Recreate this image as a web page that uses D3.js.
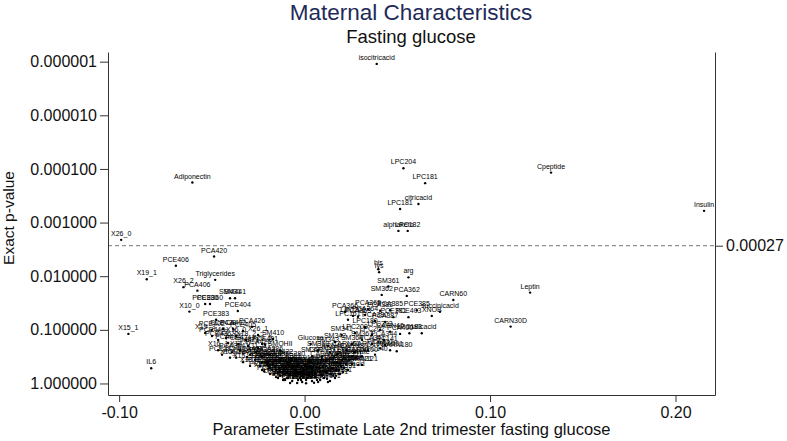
<!DOCTYPE html>
<html>
<head>
<meta charset="utf-8">
<script src="https://d3js.org/d3.v7.min.js"></script>
<style>
  body { margin: 0; background: #fff; }
  text { font-family: "Liberation Sans", Arial, sans-serif; }
</style>
</head>
<body>
<div id="chart"></div>
<script>
// labels
var chartTitle = "Maternal Characteristics";
var chartSubtitle = "Fasting glucose";
var xTitle = "Parameter Estimate Late 2nd trimester fasting glucose";
var yTitle = "Exact p-value";

// axis ticks
var xTicks = [-0.10, 0.00, 0.10, 0.20];
var yTicks = [0.000001, 0.00001, 0.0001, 0.001, 0.01, 0.1, 1];
var cutoffValue = 0.0027;
var cutoffLabel = "0.00027";

// metabolites that stand out of the cloud
var outlierNames = ["isocitricacid","LPC204","LPC181","citricacid","LPC181","alphaketo","LPC182",
  "Cpeptide","Insulin","Adiponectin","X26_0","PCA420","PCE406","X19_1","Triglycerides","X26_2",
  "PCA406","SM431","SM441","PCE380","PCE360","PCE404","X10_0","PCE383","X15_1","IL6","Leptin",
  "CARN30D","his","lys","arg","SM361","SM362","PCA362","CARN60","Glucose"];
var outlierEst = [0.0389,0.0533,0.0650,0.0614,0.0515,0.0506,0.0556,
  0.1329,0.2154,-0.0605,-0.0989,-0.0488,-0.0694,-0.0851,-0.0482,-0.0653,
  -0.0578,-0.0402,-0.0375,-0.0536,-0.0510,-0.0360,-0.0621,-0.0477,-0.0950,-0.0827,0.1216,
  0.1111,0.0398,0.0402,0.0560,0.0452,0.0416,0.0551,0.0802,0.0033];
var outlierP = [1.1e-6,9.7e-5,1.84e-4,4.5e-4,5.6e-4,1.43e-3,1.43e-3,
  1.17e-4,6.05e-4,1.79e-4,2.1e-3,4.3e-3,6.4e-3,0.0114,0.0117,0.016,
  0.0186,0.0257,0.0257,0.033,0.033,0.0444,0.0457,0.065,0.119,0.52,0.0202,
  0.087,0.0074,0.0084,0.0105,0.0156,0.0223,0.0233,0.0277,0.183];

// the V shaped cloud near zero
var cloudNames = ["PCE402","PCE428","PCA402","PCE405","PCA426","X19_3","X26_1","SM410","X16_1","PCA404",
  "PCE424","SM421","PCA425","PCE401","SMOHII","X15_3","PCE382","PCA384","PCE384","PCA403",
  "PCE364","PCA383","PCE362","PCA386","PCE386","SM422","CARN20","PCE341","PCA361","PCE363",
  "LPC160","SM400","CARN30","PCA342","PCE340","LPC170","PCA360","PCE361","SM380","CARN50",
  "PCA381","SM390","PCE342","PCA343","X10_1","CARN140","SM330","PCE320","X12_0","PCA322",
  "PCE344","gln","ala","gly","val","leu","ile","pro","thr","ser",
  "asn","asp","glu","orn","cit","met","phe","tyr","trp","lactate",
  "pyruvate","CARN21","CARN31","CARN42","CARN41","CARN51","CARN80","CARN100","CARN121","butyricacid",
  "CARN160","CARN180","PCA301","PCA321","PCA341","PCA344","SM341","SM342","SM343","SM360",
  "SM320","LPC180","LPC200","LPC202","LPC203","CARN40","PCA400","LPC183","malicacid","PCA363",
  "PCA364","LPC201","PCA365","PCA382","PCA385","PCE381","PCE403","PCE385","XNOB","succinicacid",
  "PCA366","LPC161","PCA380","PCA387","SM363","SM364","LPC140","LPC141","PCE300","PCA300",
  "SM300","CARN61","CARN70","CARN90","CARN120","CARN141","CARN161","CARN181","CARN182","CARN5OH",
  "PCE322","PCA324","PCE324","PCA340","SM302","SM304","SM365","LPC150","LPC171","LPC190",
  "LPC191","PCE280","PCA280","PCA302","X11_0","X14_0","X17_0","X18_1","X20_4","X22_6",
  "X16_0","X18_2","X20_5","PCE426","PCE440",
  "CARN2","CARN3","CARN4","CARN5","CARN6","CARN8","CARN10","CARN12","CARN14","CARN16",
  "CARN18","CARN5DC","CARN3OH","CARN4OH","SM240","SM241","SM242","SM160","SM161","SM180",
  "SM181","PCA320","PCA330","PCA331","PCA332","PCA350","PCA351","PCE301","PCE321","PCE323",
  "PCE330","PCE331","PCE350","PCE351","LPC141a","LPC162","LPC172","LPC184","LPC205","LPC206"];
var cloudEst = [-0.0500,-0.0439,-0.0385,-0.0332,-0.0283,-0.0536,-0.0251,-0.0170,-0.0466,-0.0412,
  -0.0358,-0.0305,-0.0251,-0.0213,-0.0132,-0.0332,-0.0445,-0.0391,-0.0369,-0.0294,
  -0.0267,-0.0229,-0.0197,-0.0186,-0.0154,-0.0121,-0.0100,-0.0240,-0.0175,-0.0143,
  -0.0110,-0.0078,-0.0067,-0.0046,-0.0035,-0.0089,-0.0132,-0.0159,-0.0208,-0.0310,
  -0.0089,-0.0057,-0.0024,-0.0013,-0.0008,-0.0040,-0.0067,-0.0105,-0.0143,-0.0186,
  -0.0229,0.0008,0.0019,0.0040,0.0057,0.0073,0.0084,0.0105,0.0121,0.0137,
  0.0154,0.0170,0.0191,0.0213,0.0030,0.0073,0.0116,0.0159,0.0202,0.0256,
  0.0278,0.0290,0.0094,0.0137,0.0180,0.0224,0.0267,0.0310,0.0310,0.0234,
  0.0342,0.0497,0.0461,0.0407,0.0364,0.0429,0.0200,0.0164,0.0126,0.0073,
  0.0040,0.0326,0.0272,0.0364,0.0407,0.0461,0.0515,0.0565,0.0632,0.0288,
  0.0326,0.0261,0.0342,0.0407,0.0461,0.0479,0.0560,0.0605,0.0686,0.0730,
  0.0218,0.0234,0.0380,0.0434,0.0310,0.0256,0.0380,0.0434,-0.0024,-0.0046,
  -0.0003,0.0019,0.0040,0.0062,0.0094,0.0116,0.0148,0.0170,0.0191,0.0213,
  -0.0078,-0.0110,-0.0154,-0.0197,-0.0229,0.0008,0.0051,0.0084,0.0126,-0.0013,
  -0.0035,-0.0067,-0.0121,-0.0186,-0.0261,-0.0348,-0.0402,-0.0294,-0.0218,-0.0423,
  -0.0369,-0.0316,-0.0229,-0.0466,-0.0499,
  -0.0186,-0.0164,-0.0137,-0.0116,-0.0094,-0.0083,-0.0062,-0.0051,-0.0040,-0.0030,
  -0.0019,-0.0008,0.0003,0.0013,0.0024,0.0035,0.0046,0.0057,0.0067,0.0078,
  0.0089,0.0100,0.0111,0.0121,0.0132,0.0143,0.0154,0.0164,0.0175,0.0186,
  0.0197,0.0207,0.0224,0.0240,0.0256,-0.0094,-0.0127,-0.0154,-0.0202,-0.0229];
var cloudP = [0.100,0.096,0.096,0.105,0.088,0.114,0.125,0.148,0.24,0.176,
  0.183,0.20,0.22,0.19,0.24,0.40,0.29,0.26,0.33,0.29,
  0.36,0.31,0.40,0.29,0.36,0.33,0.47,0.47,0.56,0.61,
  0.56,0.665,0.51,0.72,0.86,0.79,0.72,0.47,0.40,0.32,
  0.40,0.47,0.61,0.94,0.76,0.98,0.90,0.86,0.79,0.665,
  0.56,0.86,0.69,0.90,0.76,0.94,0.61,0.79,0.64,0.90,
  0.72,0.56,0.665,0.51,0.47,0.43,0.47,0.40,0.36,0.43,
  0.33,0.45,0.31,0.26,0.28,0.24,0.26,0.31,0.45,0.56,
  0.24,0.25,0.24,0.22,0.183,0.154,0.124,0.168,0.20,0.24,
  0.31,0.089,0.114,0.124,0.100,0.108,0.119,0.116,0.116,0.057,
  0.053,0.055,0.041,0.044,0.043,0.058,0.058,0.043,0.055,0.046,
  0.046,0.065,0.068,0.071,0.154,0.183,0.29,0.19,0.79,0.61,
  0.665,0.51,0.61,0.51,0.72,0.36,0.51,0.72,0.43,0.33,
  0.98,0.665,0.56,0.47,0.40,0.99,0.97,0.86,0.94,0.51,
  0.43,0.36,0.47,0.36,0.26,0.24,0.33,0.47,0.59,0.142,
  0.130,0.154,0.183,0.154,0.130,
  0.51,0.665,0.51,0.86,0.61,0.47,0.79,0.56,0.47,0.665,
  0.86,0.59,0.47,0.79,0.61,0.76,0.51,0.64,0.86,0.51,
  0.69,0.47,0.61,0.82,0.43,0.665,0.51,0.79,0.40,0.56,
  0.47,0.61,0.43,0.36,0.31,0.79,0.61,0.76,0.43,0.33];

var width = 787, height = 441;
var margin = {top: 52, right: 72, bottom: 46, left: 108};

var svg = d3.select("#chart").append("svg")
    .attr("width", width)
    .attr("height", height);

var x = d3.scaleLinear()
    .domain([-0.106, 0.2213])
    .range([margin.left, width - margin.right]);

var y = d3.scaleLog()
    .domain([1.64, 6.6e-7])
    .range([height - margin.bottom, margin.top]);

var points = [];
cloudNames.forEach(function(d, i){
  points.push({name: d, est: cloudEst[i], p: cloudP[i]});
});
outlierNames.forEach(function(d, i){
  points.push({name: d, est: outlierEst[i], p: outlierP[i]});
});

// titles
svg.append("text")
    .attr("x", 411).attr("y", 20)
    .attr("text-anchor", "middle")
    .style("font-size", "22.5px")
    .attr("fill", "#1e2a58")
    .text(chartTitle);

svg.append("text")
    .attr("x", 411).attr("y", 43)
    .attr("text-anchor", "middle")
    .style("font-size", "18.5px")
    .attr("fill", "#111")
    .text(chartSubtitle);

// cutoff line
svg.append("line")
    .attr("x1", x.range()[0]).attr("x2", x.range()[1])
    .attr("y1", y(cutoffValue)).attr("y2", y(cutoffValue))
    .attr("stroke", "#777")
    .attr("stroke-width", 1)
    .attr("stroke-dasharray", "4,3");

// axes
var yAxis = svg.append("g")
    .attr("transform", "translate(" + margin.left + ",0)")
    .call(d3.axisLeft(y).tickValues(yTicks).tickSize(8).tickSizeOuter(0).tickPadding(3)
      .tickFormat(d3.format(".6f")));

var xAxis = svg.append("g")
    .attr("transform", "translate(0," + (height - margin.bottom) + ")")
    .call(d3.axisBottom(x).tickValues(xTicks).tickSize(7).tickSizeOuter(0).tickPadding(5)
      .tickFormat(function(d){ return d.toFixed(2); }));

var rightAxis = svg.append("g")
    .attr("transform", "translate(" + (width - margin.right) + ",0)")
    .call(d3.axisRight(y).tickValues([cutoffValue]).tickSize(8).tickSizeOuter(0).tickPadding(3)
      .tickFormat(function(){ return cutoffLabel; }));

[yAxis, xAxis, rightAxis].forEach(function(g){
  g.select(".domain").attr("stroke", "#333");
  g.selectAll(".tick line").attr("stroke", "#333");
  g.selectAll(".tick text")
      .style("font-size", "16px")
      .style("font-family", "'Liberation Sans', Arial, sans-serif")
      .attr("fill", "#111");
});

svg.append("text")
    .attr("transform", "translate(14," + 218 + ") rotate(-90)")
    .attr("text-anchor", "middle")
    .style("font-size", "15.5px")
    .attr("fill", "#111")
    .text(yTitle);

svg.append("text")
    .attr("x", 411.5).attr("y", 435)
    .attr("text-anchor", "middle")
    .style("font-size", "16.5px")
    .attr("fill", "#111")
    .text(xTitle);

// points and their labels
svg.append("g").selectAll("circle")
    .data(points)
    .enter().append("circle")
    .attr("cx", function(d){ return x(d.est); })
    .attr("cy", function(d){ return y(d.p); })
    .attr("r", 1.2)
    .attr("fill", "#000");

svg.append("g").selectAll("text")
    .data(points)
    .enter().append("text")
    .attr("x", function(d){ return x(d.est); })
    .attr("y", function(d){ return y(d.p) - 4; })
    .attr("text-anchor", "middle")
    .style("font-size", "7px")
    .attr("fill", "#000")
    .text(function(d){ return d.name; });
</script>
</body>
</html>
